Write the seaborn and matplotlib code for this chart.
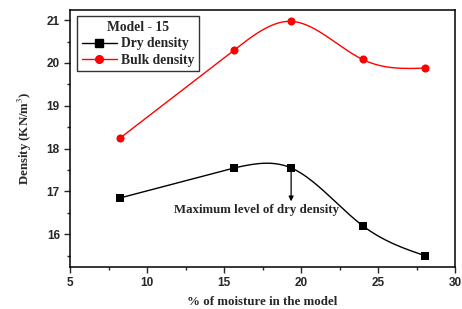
import numpy as np
import pandas as pd
import matplotlib
matplotlib.use("Agg")
import matplotlib.pyplot as plt
from matplotlib.lines import Line2D
from matplotlib.ticker import MultipleLocator
import seaborn as sns

# data
moisture = [8.25, 15.65, 19.35, 24.0, 28.05]
dry_density = [16.85, 17.55, 17.55, 16.2, 15.5]
bulk_density = [18.25, 20.3, 20.97, 20.08, 19.88]

sns.set_style("ticks")
plt.rcParams["font.family"] = ["Liberation Serif", "DejaVu Serif"]
plt.rcParams["mathtext.fontset"] = "stix"


def natural_spline(x, y, n=200):
    # natural cubic spline through the given points (only for the drawn line)
    x = np.asarray(x, float)
    y = np.asarray(y, float)
    k = len(x)
    h = np.diff(x)
    A = np.zeros((k, k))
    b = np.zeros(k)
    A[0, 0] = A[-1, -1] = 1
    for i in range(1, k - 1):
        A[i, i - 1] = h[i - 1]
        A[i, i] = 2 * (h[i - 1] + h[i])
        A[i, i + 1] = h[i]
        b[i] = 6 * ((y[i + 1] - y[i]) / h[i] - (y[i] - y[i - 1]) / h[i - 1])
    m = np.linalg.solve(A, b)
    xs = np.linspace(x[0], x[-1], n)
    idx = np.clip(np.searchsorted(x, xs) - 1, 0, k - 2)
    x0, x1 = x[idx], x[idx + 1]
    hh = x1 - x0
    t0, t1 = x1 - xs, xs - x0
    ys = (m[idx] * t0**3 / (6 * hh) + m[idx + 1] * t1**3 / (6 * hh)
          + (y[idx] / hh - m[idx] * hh / 6) * t0
          + (y[idx + 1] / hh - m[idx + 1] * hh / 6) * t1)
    return xs, ys


def curve(x, y):
    # straight first segment, spline through the rest
    xs, ys = natural_spline(x[1:], y[1:])
    return np.r_[x[0], xs], np.r_[y[0], ys]


fig, ax = plt.subplots(figsize=(4.62, 3.09), dpi=100)
fig.subplots_adjust(left=0.152, right=0.985, top=0.969, bottom=0.137)

for vals, color, marker in [(dry_density, "black", "s"),
                            (bulk_density, "red", "o")]:
    cx, cy = curve(moisture, vals)
    ax.plot(cx, cy, color=color, linewidth=1.0, zorder=2)
    df = pd.DataFrame({"x": moisture, "y": vals})
    sns.scatterplot(data=df, x="x", y="y", ax=ax, color=color, marker=marker,
                    s=34, edgecolor=color, linewidth=0, zorder=3)

ax.annotate("", xy=(19.35, 16.77), xytext=(19.35, 17.52),
            arrowprops=dict(arrowstyle="-|>", color="black", lw=0.9,
                            mutation_scale=7, shrinkA=0, shrinkB=0))
ax.text(17.12, 16.57, "Maximum level of dry density", ha="center",
        va="center", fontsize=9.3, fontweight="bold")

ax.set_xlim(5, 30)
ax.set_ylim(15.245, 21.245)
ax.xaxis.set_major_locator(MultipleLocator(5))
ax.xaxis.set_minor_locator(MultipleLocator(2.5))
ax.yaxis.set_major_locator(MultipleLocator(1))
ax.yaxis.set_minor_locator(MultipleLocator(0.5))
ax.tick_params(which="major", length=4, width=1, direction="out")
ax.tick_params(which="minor", length=2.5, width=1, direction="out")
for lab in ax.get_xticklabels() + ax.get_yticklabels():
    lab.set_family("Liberation Sans")
    lab.set_fontweight("bold")
    lab.set_fontsize(8.5)
for sp in ax.spines.values():
    sp.set_visible(True)
    sp.set_linewidth(1.1)
    sp.set_color("black")

ax.set_xlabel("% of moisture in the model", fontsize=9.3, fontweight="bold",
              labelpad=5)
ax.set_ylabel("Density (KN/m$^3$)", fontsize=9.3, fontweight="bold",
              labelpad=9)

handles = [
    Line2D([], [], color="black", marker="s", markersize=5.5, linewidth=1.0),
    Line2D([], [], color="red", marker="o", markersize=5.5, linewidth=1.0),
]
leg = ax.legend(handles, ["Dry density", "Bulk density"], title="Model - 15",
                loc="upper left", bbox_to_anchor=(0.01, 0.985),
                prop={"weight": "bold", "size": 9.8}, frameon=True,
                fancybox=False, edgecolor="black", handlelength=2.6,
                handletextpad=0.3, borderpad=0.35, labelspacing=0.25,
                borderaxespad=0.2)
leg.get_title().set_fontweight("bold")
leg.get_title().set_fontsize(9.8)
leg.get_frame().set_linewidth(1.0)

fig.savefig("out.png", dpi=100)
